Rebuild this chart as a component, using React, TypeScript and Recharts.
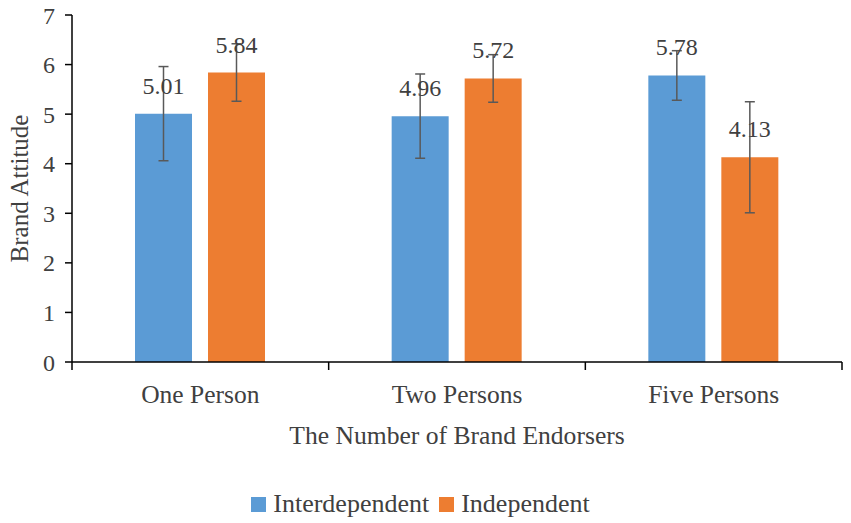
import { Bar, BarChart, ErrorBar, Label, LabelList, Legend, XAxis, YAxis } from "recharts";

const categories = ["One Person", "Two Persons", "Five Persons"];
const interdependent = [5.01, 4.96, 5.78];
const independent = [5.84, 5.72, 4.13];
const interdependentErr = [0.95, 0.85, 0.5];
const independentErr = [0.58, 0.48, 1.12];
const yTicks = [0, 1, 2, 3, 4, 5, 6, 7];

const FONT = "Liberation Serif";
const TEXT = "#404040";
const BLUE = "#5B9BD5";
const ORANGE = "#ED7D31";

const data = categories.map((name, i) => ({
  name,
  interdependent: interdependent[i],
  independent: independent[i],
  interdependentErr: interdependentErr[i],
  independentErr: independentErr[i],
}));

function CategoryTick(props: any) {
  const { x, y, payload, index, visibleTicksCount } = props;
  const half = payload.offset ?? 0;
  return (
    <g>
      <line x1={x - half} x2={x - half} y1={y} y2={y + 8} stroke="#000" strokeWidth={1.5} />
      {index === visibleTicksCount - 1 && (
        <line x1={x + half} x2={x + half} y1={y} y2={y + 8} stroke="#000" strokeWidth={1.5} />
      )}
      <text x={x} y={y + 41} textAnchor="middle" style={{ fontFamily: FONT, fontSize: 25.5 }} fill={TEXT}>
        {payload.value}
      </text>
    </g>
  );
}

function LegendContent() {
  const items = [
    { label: "Interdependent", color: BLUE },
    { label: "Independent", color: ORANGE },
  ];
  return (
    <div
      style={{
        display: "flex",
        justifyContent: "center",
        alignItems: "center",
        gap: 10,
        marginLeft: -10,
        fontFamily: FONT,
        fontSize: 26,
        color: TEXT,
      }}
    >
      {items.map((item) => (
        <span key={item.label} style={{ display: "flex", alignItems: "center", gap: 7 }}>
          <span style={{ width: 15, height: 15, background: item.color, display: "inline-block" }} />
          {item.label}
        </span>
      ))}
    </div>
  );
}

export default function App() {
  return (
    <div style={{ position: "absolute", left: 0, top: 0, background: "#fff", fontFamily: FONT }}>
      <BarChart
        width={851}
        height={523}
        data={data}
        margin={{ top: 15, right: 9, left: 0, bottom: 0 }}
        barCategoryGap="24.6%"
        barGap={16}
        style={{ fontFamily: FONT }}
      >
        <XAxis
          dataKey="name"
          axisLine={{ stroke: "#000", strokeWidth: 1.5 }}
          tickLine={false}
          tickSize={0}
          tickMargin={0}
          height={133}
          interval={0}
          tick={<CategoryTick />}
        >
          <Label
            content={(p: any) => (
              <text
                x={p.viewBox.x + p.viewBox.width / 2}
                y={p.viewBox.y + 82}
                textAnchor="middle"
                style={{ fontFamily: FONT, fontSize: 25.6 }}
                fill={TEXT}
              >
                The Number of Brand Endorsers
              </text>
            )}
          />
        </XAxis>
        <YAxis
          width={72}
          domain={[0, 7]}
          ticks={yTicks}
          interval={0}
          axisLine={{ stroke: "#000", strokeWidth: 1.5 }}
          tickLine={{ stroke: "#000", strokeWidth: 1.5 }}
          tickSize={7}
          tickMargin={10}
          tick={{ fontSize: 24, fill: TEXT, style: { fontFamily: FONT } }}
        >
          <Label
            content={(p: any) => {
              const cy = p.viewBox.y + p.viewBox.height / 2;
              return (
                <text
                  x={19}
                  y={cy}
                  transform={`rotate(-90, 19, ${cy})`}
                  textAnchor="middle"
                  dominantBaseline="central"
                  style={{ fontFamily: FONT, fontSize: 25 }}
                  fill={TEXT}
                >
                  Brand Attitude
                </text>
              );
            }}
          />
        </YAxis>
        <Legend
          verticalAlign="bottom"
          content={<LegendContent />}
          wrapperStyle={{ height: 28, bottom: 6, left: 0, width: 851 }}
        />
        <Bar dataKey="interdependent" name="Interdependent" fill={BLUE} barSize={57} isAnimationActive={false}>
          <ErrorBar dataKey="interdependentErr" width={5} stroke="#595959" strokeWidth={1.5} />
          <LabelList
            dataKey="interdependent"
            position="top"
            offset={20}
            formatter={(v: any) => Number(v).toFixed(2)}
            style={{ fontFamily: FONT, fontSize: 24, fill: TEXT }}
          />
        </Bar>
        <Bar dataKey="independent" name="Independent" fill={ORANGE} barSize={57} isAnimationActive={false}>
          <ErrorBar dataKey="independentErr" width={5} stroke="#595959" strokeWidth={1.5} />
          <LabelList
            dataKey="independent"
            position="top"
            offset={20}
            formatter={(v: any) => Number(v).toFixed(2)}
            style={{ fontFamily: FONT, fontSize: 24, fill: TEXT }}
          />
        </Bar>
      </BarChart>
    </div>
  );
}
